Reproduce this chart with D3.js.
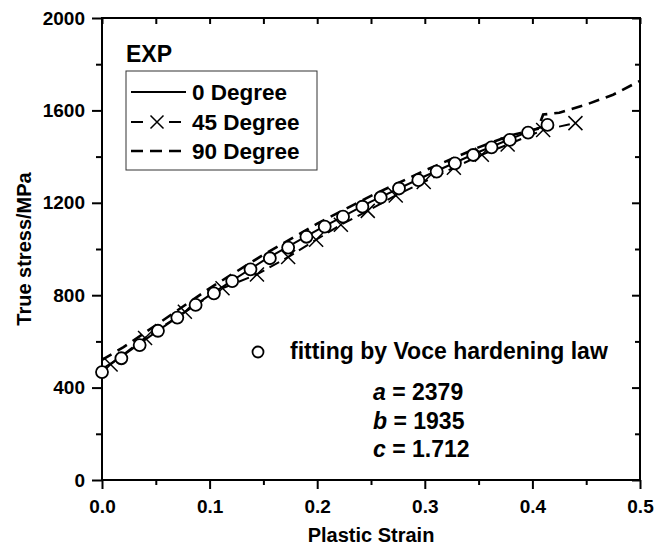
<!DOCTYPE html>
<html>
<head>
<meta charset="utf-8">
<script src="https://cdn.jsdelivr.net/npm/d3@7/dist/d3.min.js"></script>
<style>
body { margin: 0; background: #fff; }
svg text { font-family: "Liberation Sans", Arial, sans-serif; font-weight: bold; fill: #000; }
</style>
</head>
<body>
<script>
// data
var strain0 = [0, 0.02, 0.05, 0.1, 0.15, 0.2, 0.25, 0.3, 0.35, 0.4, 0.41],
    stress0 = [480, 540, 640, 800, 950, 1082, 1205, 1315, 1420, 1515, 1530];

var strain45 = [0.008, 0.040, 0.077, 0.112, 0.144, 0.173, 0.199, 0.222, 0.247, 0.273, 0.299, 0.327, 0.353, 0.377, 0.410, 0.440],
    stress45 = [500, 615, 728, 830, 890, 965, 1040, 1105, 1165, 1232, 1290, 1352, 1408, 1452, 1515, 1545];

var strain90 = [0, 0.02, 0.05, 0.1, 0.15, 0.2, 0.25, 0.3, 0.35, 0.38, 0.405, 0.41, 0.425, 0.45, 0.475, 0.5],
    stress90 = [520, 575, 670, 830, 975, 1110, 1230, 1340, 1440, 1492, 1520, 1582, 1590, 1625, 1668, 1728];

var strainFit = [0.000, 0.018, 0.035, 0.052, 0.070, 0.087, 0.104, 0.121, 0.138, 0.156, 0.173, 0.190, 0.207,
                 0.224, 0.242, 0.259, 0.276, 0.294, 0.311, 0.328, 0.345, 0.362, 0.379, 0.396, 0.414],
    stressFit = [467, 527, 584, 646, 703, 758, 808, 861, 912, 960, 1006, 1053, 1097,
                 1140, 1183, 1223, 1262, 1298, 1335, 1371, 1407, 1440, 1472, 1504, 1537];

var xTicks = [0, 0.1, 0.2, 0.3, 0.4, 0.5],
    yTicks = [0, 400, 800, 1200, 1600, 2000],
    legendNames = ["0 Degree", "45 Degree", "90 Degree"],
    fitNames = ["a", "b", "c"],
    fitValues = ["2379", "1935", "1.712"];

// set up variables
var margin = {top: 18, right: 15, bottom: 70, left: 102},
    canvasWidth = 655,
    canvasHeight = 550,
    plotWidth = canvasWidth - margin.left - margin.right,
    plotHeight = canvasHeight - margin.top - margin.bottom;

var figure = d3.select("body")
    .append("svg")
        .attr("width", canvasWidth)
        .attr("height", canvasHeight);

var x = d3.scaleLinear()
        .range([margin.left, margin.left + plotWidth])
        .domain([0, 0.5]);
var y = d3.scaleLinear()
        .range([margin.top + plotHeight, margin.top])
        .domain([0, 2000]);

var xMinor = x.ticks(10).filter(function(d) { return xTicks.indexOf(d) < 0; }),
    yMinor = y.ticks(10).filter(function(d) { return yTicks.indexOf(d) < 0; });

function styleAxis(g) {
    g.select(".domain").remove();
    g.selectAll("line").attr("stroke", "#000").attr("stroke-width", 2);
}

// bottom axis, ticks out
figure.append("g")
    .attr("transform", "translate(0," + (margin.top + plotHeight) + ")")
    .call(d3.axisBottom(x).tickValues(xTicks).tickFormat(d3.format(".1f")).tickSize(9))
    .call(styleAxis)
    .selectAll("text")
        .attr("dy", null)
        .attr("y", 33)
        .style("font-size", "19px");
figure.append("g")
    .attr("transform", "translate(0," + (margin.top + plotHeight) + ")")
    .call(d3.axisBottom(x).tickValues(xMinor).tickFormat("").tickSize(5))
    .call(styleAxis);

// top axis, ticks in
figure.append("g")
    .attr("transform", "translate(0," + margin.top + ")")
    .call(d3.axisBottom(x).tickValues(xTicks.concat(xMinor)).tickFormat("").tickSize(6))
    .call(styleAxis);

// left axis, ticks out
figure.append("g")
    .attr("transform", "translate(" + margin.left + ",0)")
    .call(d3.axisLeft(y).tickValues(yTicks).tickFormat(d3.format("d")).tickSize(10).tickPadding(7))
    .call(styleAxis)
    .selectAll("text")
        .style("font-size", "19px");
figure.append("g")
    .attr("transform", "translate(" + margin.left + ",0)")
    .call(d3.axisLeft(y).tickValues(yMinor).tickFormat("").tickSize(6))
    .call(styleAxis);

// right axis, ticks in
figure.append("g")
    .attr("transform", "translate(" + (margin.left + plotWidth) + ",0)")
    .call(d3.axisLeft(y).tickValues(yTicks).tickFormat("").tickSize(8))
    .call(styleAxis);
figure.append("g")
    .attr("transform", "translate(" + (margin.left + plotWidth) + ",0)")
    .call(d3.axisLeft(y).tickValues(yMinor).tickFormat("").tickSize(5))
    .call(styleAxis);

// frame
figure.append("rect")
    .attr("x", margin.left)
    .attr("y", margin.top)
    .attr("width", plotWidth)
    .attr("height", plotHeight)
    .attr("fill", "none")
    .attr("stroke", "#000")
    .attr("stroke-width", 2);

// axis titles
figure.append("text")
    .attr("x", margin.left + plotWidth / 2)
    .attr("y", 542)
    .attr("text-anchor", "middle")
    .style("font-size", "20px")
    .text("Plastic Strain");
figure.append("text")
    .attr("transform", "translate(31," + (margin.top + plotHeight / 2) + ") rotate(-90)")
    .attr("text-anchor", "middle")
    .style("font-size", "20px")
    .text("True stress/MPa");

var line = d3.line()
    .x(function(d) { return x(d[0]); })
    .y(function(d) { return y(d[1]); });

var curves = figure.append("g").attr("class", "curves");

// 90 degree, dashed
curves.append("path")
    .datum(d3.zip(strain90, stress90))
    .attr("d", line)
    .attr("fill", "none")
    .attr("stroke", "#000")
    .attr("stroke-width", 2.6)
    .attr("stroke-dasharray", "11,7");

// 45 degree, dashed with crosses
curves.append("path")
    .datum(d3.zip(strain45, stress45))
    .attr("d", line)
    .attr("fill", "none")
    .attr("stroke", "#000")
    .attr("stroke-width", 2)
    .attr("stroke-dasharray", "11,6");
curves.selectAll(".cross")
    .data(d3.zip(strain45, stress45))
    .enter()
    .append("path")
    .attr("class", "cross")
    .attr("transform", function(d) { return "translate(" + x(d[0]) + "," + y(d[1]) + ")"; })
    .attr("d", "M-7,-7L7,7M-7,7L7,-7")
    .attr("stroke", "#000")
    .attr("stroke-width", 1.5);

// 0 degree, solid
curves.append("path")
    .datum(d3.zip(strain0, stress0))
    .attr("d", line)
    .attr("fill", "none")
    .attr("stroke", "#000")
    .attr("stroke-width", 2);

// Voce fit, open circles
curves.selectAll(".fit")
    .data(d3.zip(strainFit, stressFit))
    .enter()
    .append("circle")
    .attr("class", "fit")
    .attr("cx", function(d) { return x(d[0]); })
    .attr("cy", function(d) { return y(d[1]); })
    .attr("r", 6)
    .attr("fill", "#fff")
    .attr("stroke", "#000")
    .attr("stroke-width", 1.8);

// legend
figure.append("text")
    .attr("x", 126)
    .attr("y", 62)
    .style("font-size", "23px")
    .text("EXP");
figure.append("rect")
    .attr("x", 126)
    .attr("y", 71)
    .attr("width", 191)
    .attr("height", 99)
    .attr("fill", "none")
    .attr("stroke", "#333")
    .attr("stroke-width", 1);

var rowY = [92, 122, 151];
var legend = figure.append("g").attr("class", "legend");
legend.append("line")
    .attr("x1", 131).attr("x2", 186)
    .attr("y1", rowY[0]).attr("y2", rowY[0])
    .attr("stroke", "#000").attr("stroke-width", 2);
legend.append("line")
    .attr("x1", 131).attr("x2", 143)
    .attr("y1", rowY[1]).attr("y2", rowY[1])
    .attr("stroke", "#000").attr("stroke-width", 2);
legend.append("line")
    .attr("x1", 169).attr("x2", 181)
    .attr("y1", rowY[1]).attr("y2", rowY[1])
    .attr("stroke", "#000").attr("stroke-width", 2);
legend.append("path")
    .attr("transform", "translate(157," + rowY[1] + ")")
    .attr("d", "M-6.5,-6.5L6.5,6.5M-6.5,6.5L6.5,-6.5")
    .attr("stroke", "#000").attr("stroke-width", 1.5);
legend.append("line")
    .attr("x1", 131).attr("x2", 181)
    .attr("y1", rowY[2]).attr("y2", rowY[2])
    .attr("stroke", "#000").attr("stroke-width", 2.6)
    .attr("stroke-dasharray", "12,7");
legend.selectAll("text")
    .data(legendNames)
    .enter()
    .append("text")
    .attr("x", 192)
    .attr("y", function(d, i) { return rowY[i] + 8; })
    .style("font-size", "22.5px")
    .text(function(d) { return d; });

// fit annotation
figure.append("circle")
    .attr("cx", 258)
    .attr("cy", 352)
    .attr("r", 5.5)
    .attr("fill", "#fff")
    .attr("stroke", "#000")
    .attr("stroke-width", 1.8);
figure.append("text")
    .attr("x", 290)
    .attr("y", 359)
    .style("font-size", "23px")
    .text("fitting by Voce hardening law");

var params = figure.selectAll(".param")
    .data(fitNames)
    .enter()
    .append("text")
    .attr("class", "param")
    .attr("x", 373)
    .attr("y", function(d, i) { return 400 + i * 28.5; })
    .style("font-size", "23px");
params.append("tspan")
    .style("font-style", "italic")
    .text(function(d) { return d; });
params.append("tspan")
    .text(function(d, i) { return " = " + fitValues[i]; });
</script>
</body>
</html>
